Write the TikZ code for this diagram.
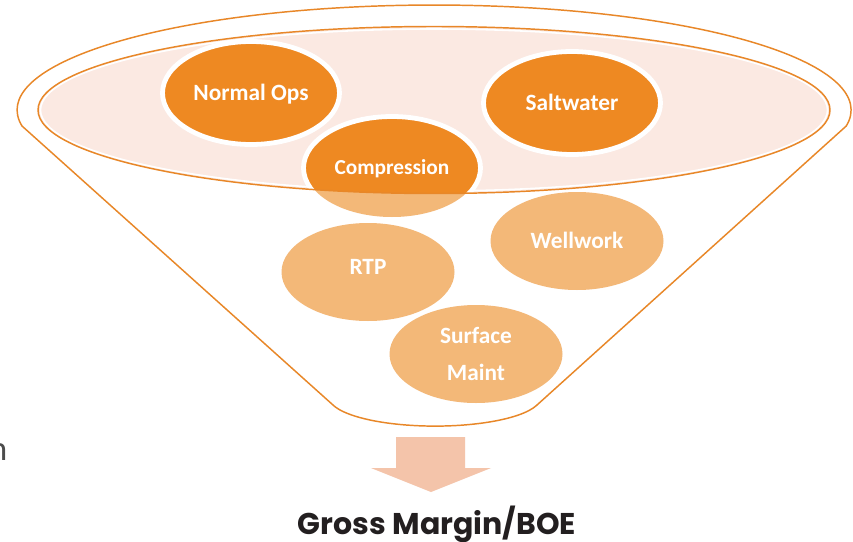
\documentclass[tikz,border=0pt]{standalone}
\usepackage{fontspec}
\setmainfont{Carlito}
\newfontfamily\gfont{Poppins}
\usetikzlibrary{shapes.geometric}
\definecolor{dorange}{HTML}{EE8922}
\definecolor{lorange}{HTML}{F3B878}
\definecolor{pinkf}{HTML}{FBE9E2}
\definecolor{arrowc}{HTML}{F4C4AA}
\definecolor{lineor}{HTML}{E88728}
\definecolor{txtdark}{HTML}{231F20}
\begin{document}
\begin{tikzpicture}[x=0.75pt,y=0.75pt,
  blobfont/.style={font=\bfseries\fontsize{17.5}{28}\selectfont},
  darkblob/.style={ellipse, fill=dorange, draw=white, line width=3.6pt,
    minimum width=132.75pt, minimum height=77.25pt, inner sep=0pt,
    text=white, blobfont},
  lightblob/.style={ellipse, fill=lorange, minimum width=129.75pt,
    minimum height=73.5pt, inner sep=0pt, text=white, blobfont, align=center},
  oneline/.style={text height=11pt, text depth=0pt},
  outline/.style={draw=lineor, line width=1.1pt}]
\path[use as bounding box, fill=white] (0,0) rectangle (853,-542);
% funnel outline
\draw[outline] (333,-405) -- (22,-126)
  arc[start angle=188.75, end angle=-8.75, x radius=417, y radius=105]
  -- (537,-405)
  arc[start angle=-15.8, end angle=-164.2, x radius=106, y radius=29] -- cycle;
% inner ellipse fill
\fill[pinkf] (434,-110) ellipse[x radius=396, y radius=83.5];
\draw[white, line width=1.2pt] (434,-110) ellipse[x radius=393.5, y radius=81];
% light blobs
\node[lightblob, oneline] (well) at (577,-241) {Wellwork};
\node[lightblob, oneline] (rtp) at (368,-272) {\raisebox{4pt}{RTP}};
\node[lightblob] (surf) at (476,-354) {Surface\\Maint};
\node[lightblob] (comp) at (392,-168) {};
\begin{scope}
  \clip (434,-110) ellipse[x radius=396, y radius=83.5];
  \node[darkblob] (compd) at (392,-168) {};
\end{scope}
\node[text=white, inner sep=0pt, oneline, text height=10pt,
  font=\bfseries\fontsize{16}{19}\selectfont] (compt) at (392,-168) {Compression};
% inner ellipse outline
\draw[outline] (434,-110) ellipse[x radius=396, y radius=83.5];
% dark blobs
\node[darkblob, oneline] (normal) at (251,-93) {Normal Ops};
\node[darkblob, oneline] (salt) at (572,-103) {Saltwater};
% arrow
\fill[arrowc] (396,-437) -- (465,-437) -- (465,-468) -- (491,-468)
  -- (431,-492) -- (371,-468) -- (396,-468) -- cycle;
\node[anchor=base, inner sep=0pt, text=txtdark,
  font=\gfont\bfseries\fontsize{22.5}{26}\selectfont] (gm) at (437,-534.5) {Gross Margin/BOE};
% clipped stray letter at left edge
\node[anchor=base east, inner sep=0pt, text=black!70,
  font=\fontsize{26}{30}\selectfont] (stray) at (7.5,-460) {n};
\end{tikzpicture}
\end{document}
